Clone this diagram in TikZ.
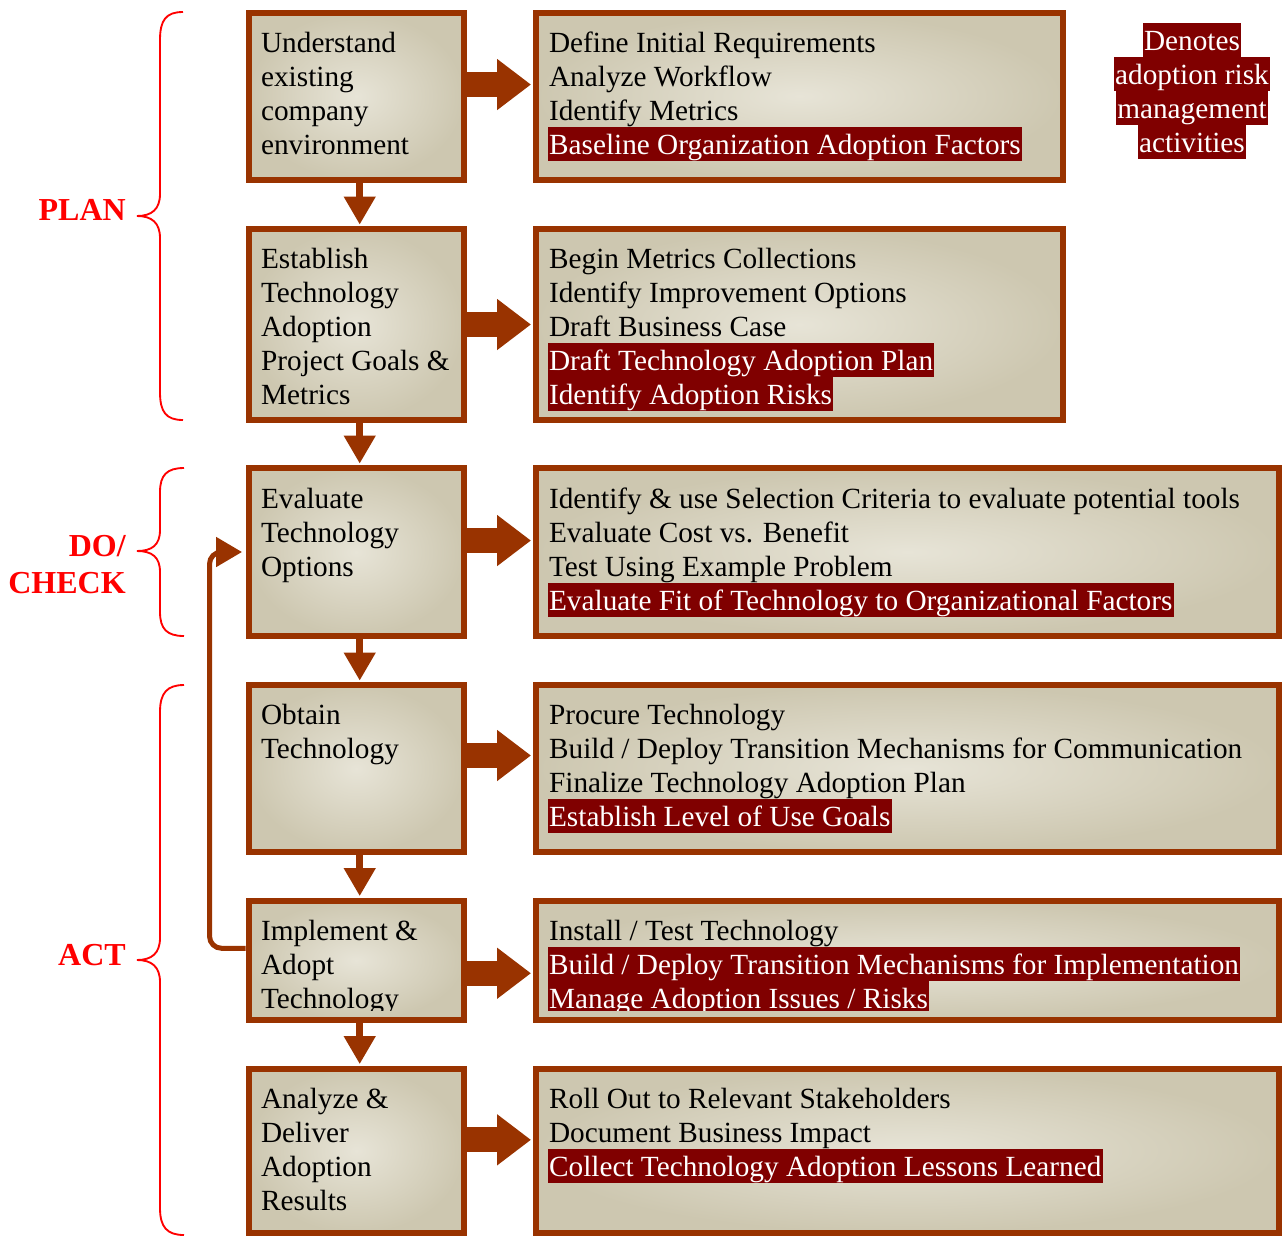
\documentclass[tikz,border=0pt]{standalone}
\usepackage{fontspec}
\setmainfont{Liberation Serif}
\usetikzlibrary{fit,arrows.meta}
\definecolor{brd}{RGB}{153,51,0}
\definecolor{hl}{RGB}{128,0,0}
\definecolor{bin}{RGB}{231,228,215}
\definecolor{bout}{RGB}{205,199,176}
\newcommand\txtlines[4]{%
  \foreach \sty/\txt [count=\i] in {#4}{%
    \node[\sty, anchor=base west] (#1-\i) at ({#2},{#3+(\i-1)*34}) {\txt};}}
\begin{document}
\begin{tikzpicture}[x=0.75pt,y=-0.75pt,
  every node/.style={font=\fontsize{21.95pt}{25.5pt}\selectfont},
  box/.style={draw=brd, line width=4.5pt, inner sep=0pt, shading=radial,
    inner color=bin, outer color=bout},
  tn/.style={inner xsep=1pt, inner ysep=0pt, text=black},
  th/.style={inner xsep=1pt, inner ysep=0pt, fill=hl, text=white,
    text height=20.25pt, text depth=5.25pt},
  leg/.style={th, anchor=base},
  lab/.style={text=red, font=\fontsize{24pt}{28pt}\selectfont\bfseries,
    inner sep=0pt, anchor=base east},
  brace/.style={draw=red, line width=1.4pt},
  darr/.style={draw=brd, line width=5.25pt,
    -{Triangle[length=21pt,width=22.5pt]}, shorten >=1pt},
  farr/.style={draw=brd, line width=18.75pt,
    -{Triangle[length=25.5pt,width=36.75pt]}, shorten >=1.5pt},
  looparr/.style={draw=brd, line width=3.75pt, rounded corners=9pt,
    -{Triangle[length=19.5pt,width=21.75pt]}}
]
\useasboundingbox (0,0) rectangle (1288,1236);

% boxes
\node[box, fit={(248.5,12.5) (464,179.5)}] (L1) {};
\node[box, fit={(248.5,229) (464,420)}] (L2) {};
\node[box, fit={(248.5,468) (464,636)}] (L3) {};
\node[box, fit={(248.5,685) (464,852)}] (L4) {};
\node[box, fit={(248.5,900.5) (464,1020)}] (L5) {};
\node[box, fit={(248.5,1068.5) (464,1233)}] (L6) {};
\node[box, fit={(536,12.5) (1063,179.5)}] (R1) {};
\node[box, fit={(536,229) (1063,420)}] (R2) {};
\node[box, fit={(536,468) (1279,636)}] (R3) {};
\node[box, fit={(536,685) (1279,852)}] (R4) {};
\node[box, fit={(536,900.5) (1279,1020)}] (R5) {};
\node[box, fit={(536,1068.5) (1279,1233)}] (R6) {};

% left texts
\txtlines{lt1}{259.5}{52}{tn/Understand, tn/existing, tn/company, tn/environment}
\txtlines{lt2}{259.5}{268}{tn/Establish, tn/Technology, tn/Adoption, tn/{Project Goals \&}, tn/Metrics}
\txtlines{lt3}{259.5}{508}{tn/Evaluate, tn/Technology, tn/Options}
\txtlines{lt4}{259.5}{724}{tn/Obtain, tn/Technology}
\txtlines{lt6}{259.5}{1108}{tn/{Analyze \&}, tn/Deliver, tn/Adoption, tn/Results}

% right texts
\txtlines{rt1}{547.5}{52}{tn/Define Initial Requirements, tn/Analyze Workflow, tn/Identify Metrics, th/Baseline Organization Adoption Factors}
\txtlines{rt2}{547.5}{268}{tn/Begin Metrics Collections, tn/Identify Improvement Options, tn/Draft Business Case, th/Draft Technology Adoption Plan, th/Identify Adoption Risks}
\txtlines{rt3}{547.5}{508}{tn/{Identify \& use Selection Criteria to evaluate potential tools}, tn/Evaluate Cost vs. Benefit, tn/Test Using Example Problem, th/Evaluate Fit of Technology to Organizational Factors}
\txtlines{rt4}{547.5}{724}{tn/Procure Technology, tn/{Build / Deploy Transition Mechanisms for Communication}, tn/Finalize Technology Adoption Plan, th/Establish Level of Use Goals}
\txtlines{rt6}{547.5}{1108}{tn/Roll Out to Relevant Stakeholders, tn/Document Business Impact, th/Collect Technology Adoption Lessons Learned}

% clipped texts in the fifth row
\begin{scope}
  \clip (L5.north west) rectangle ([yshift=9.75pt]R5.south east);
  \txtlines{lt5}{259.5}{940}{tn/{Implement \&}, tn/Adopt, tn/Technology}
  \txtlines{rt5}{547.5}{940}{tn/{Install / Test Technology}, th/{Build / Deploy Transition Mechanisms for Implementation}, th/{Manage Adoption Issues / Risks}}
\end{scope}

% legend
\node[leg] (lg1) at (1192,50) {Denotes};
\node[leg] (lg2) at (1192,84) {adoption risk};
\node[leg] (lg3) at (1192,118) {management};
\node[leg] (lg4) at (1192,152) {activities};

% down arrows
\draw[darr] ([xshift=2.6pt]L1.south) -- ([xshift=2.6pt]L2.north);
\draw[darr] ([xshift=2.6pt]L2.south) -- ([xshift=2.6pt]L3.north);
\draw[darr] ([xshift=2.6pt]L3.south) -- ([xshift=2.6pt]L4.north);
\draw[darr] ([xshift=2.6pt]L4.south) -- ([xshift=2.6pt]L5.north);
\draw[darr] ([xshift=2.6pt]L5.south) -- ([xshift=2.6pt]L6.north);

% fat right arrows
\draw[farr] ([yshift=8.6pt]L1.east) -- ([yshift=8.6pt]R1.west);
\draw[farr] ([yshift=0pt]L2.east) -- ([yshift=0pt]R2.west);
\draw[farr] ([yshift=8.6pt]L3.east) -- ([yshift=8.6pt]R3.west);
\draw[farr] ([yshift=9.75pt]L4.east) -- ([yshift=9.75pt]R4.west);
\draw[farr] ([yshift=-9.75pt]L5.east) -- ([yshift=-9.75pt]R5.west);
\draw[farr] ([yshift=8.2pt]L6.east) -- ([yshift=8.2pt]R6.west);

% loop-back arrow
\coordinate (lpstart) at ([yshift=9pt]L5.west);
\coordinate (lpend) at ([xshift=-2.6pt]L3.west);
\draw[looparr] (lpstart) -- ++(-36,0) |- (lpend);

% braces
\draw[brace] (183,12) .. controls (166,12) and (160,20) .. (160,40)
  -- (160,194) .. controls (160,209) and (152,216) .. (137,216)
  .. controls (152,216) and (160,223) .. (160,238)
  -- (160,392) .. controls (160,412) and (166,420) .. (183,420);
\draw[brace] (184,468) .. controls (167,468) and (160,475) .. (160,492)
  -- (160,530) .. controls (160,545) and (152,551) .. (137,551)
  .. controls (152,551) and (160,557) .. (160,572)
  -- (160,612) .. controls (160,629) and (167,636) .. (184,636);
\draw[brace] (184,685) .. controls (167,685) and (160,693) .. (160,712)
  -- (160,938) .. controls (160,953) and (152,960) .. (137,960)
  .. controls (152,960) and (160,967) .. (160,982)
  -- (160,1208) .. controls (160,1227) and (167,1235) .. (184,1235);

% labels
\node[lab] (plan) at (126,220) {PLAN};
\node[lab] (do) at (126,556) {DO/};
\node[lab] (check) at (126,593) {CHECK};
\node[lab] (act) at (126,965) {ACT};
\end{tikzpicture}
\end{document}
